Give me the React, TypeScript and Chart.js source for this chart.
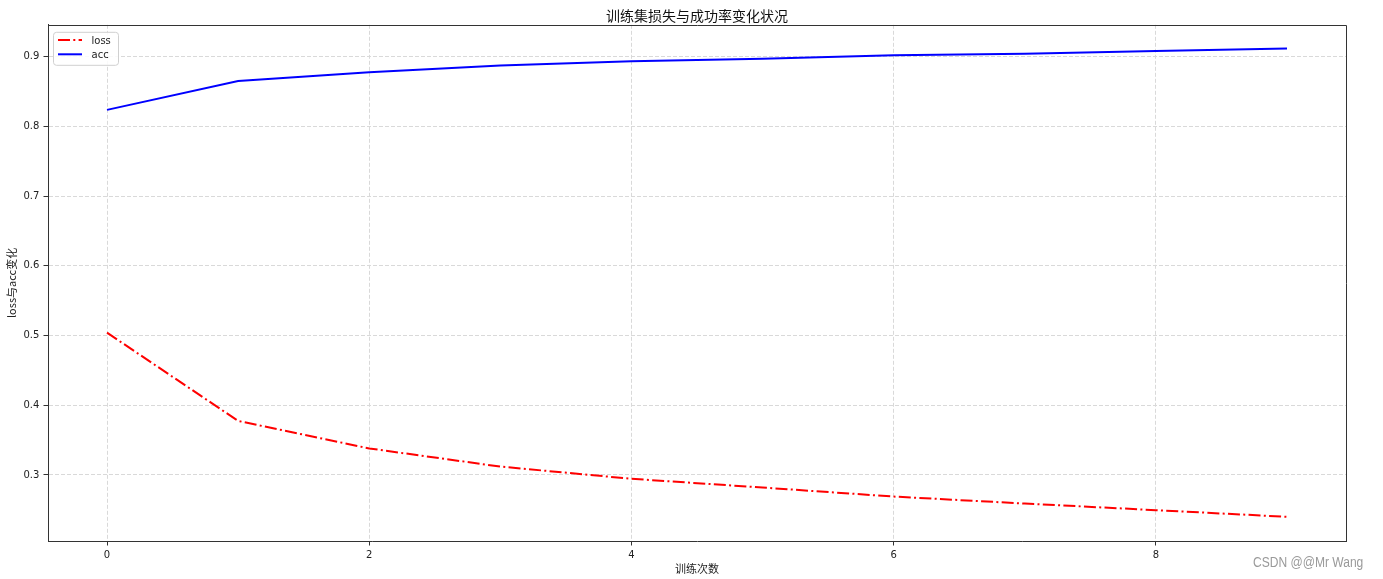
import { useEffect, useRef } from "react";
import { Chart, registerables } from "chart.js";

Chart.register(...registerables);

const epochs = [0, 1, 2, 3, 4, 5, 6, 7, 8, 9];
const lossValues = [0.504, 0.3775, 0.338, 0.312, 0.2945, 0.282, 0.269, 0.259, 0.2495, 0.24];
const accValues = [0.8235, 0.865, 0.8776, 0.887, 0.8934, 0.8967, 0.902, 0.904, 0.908, 0.9115];
const xTickValues = [0, 2, 4, 6, 8];
const yTickValues = [0.3, 0.4, 0.5, 0.6, 0.7, 0.8, 0.9];
const seriesLabels = ["loss", "acc"];
const titleText = "训练集损失与成功率变化状况";
const xTitleText = "训练次数";
const yTitleText = "loss与acc变化";
const watermarkText = "CSDN @@Mr Wang";

const FONT = "'Noto Sans CJK SC', 'DejaVu Sans', sans-serif";
const NUMFONT = "'DejaVu Sans', 'Noto Sans CJK SC', sans-serif";
const TEXT = "#222";

const framePlugin = {
  id: "frame",
  afterDatasetsDraw(chart: any) {
    const { ctx, chartArea } = chart;
    ctx.save();
    ctx.strokeStyle = "#333";
    ctx.lineWidth = 1;
    ctx.beginPath();
    ctx.moveTo(Math.round(chartArea.left) + 0.5, Math.round(chartArea.top) + 0.5);
    ctx.lineTo(Math.round(chartArea.right) + 0.5, Math.round(chartArea.top) + 0.5);
    ctx.lineTo(Math.round(chartArea.right) + 0.5, Math.round(chartArea.bottom) + 0.5);
    ctx.stroke();
    ctx.restore();
  },
};

const legendPlugin = {
  id: "mplLegend",
  afterDraw(chart: any) {
    const { ctx, chartArea } = chart;
    const x0 = chartArea.left + 5;
    const y0 = chartArea.top + 7;
    const w = 65;
    const h = 33;
    ctx.save();
    ctx.fillStyle = "rgba(255,255,255,0.85)";
    ctx.strokeStyle = "#d0d0d0";
    ctx.lineWidth = 1;
    ctx.beginPath();
    (ctx as any).roundRect(x0 + 0.5, y0 + 0.5, w, h, 3);
    ctx.fill();
    ctx.stroke();
    const rows = [chartArea.top + 15.3, chartArea.top + 29.5];
    chart.data.datasets.forEach((ds: any, i: number) => {
      const y = rows[i];
      ctx.save();
      ctx.strokeStyle = ds.borderColor;
      ctx.lineWidth = ds.borderWidth;
      ctx.setLineDash(ds.borderDash || []);
      ctx.beginPath();
      ctx.moveTo(chartArea.left + 10, y);
      ctx.lineTo(chartArea.left + 34, y);
      ctx.stroke();
      ctx.restore();
      ctx.fillStyle = TEXT;
      ctx.font = `10px ${NUMFONT}`;
      ctx.textBaseline = "middle";
      ctx.textAlign = "left";
      ctx.fillText(ds.label, chartArea.left + 43.5, y + 1.5);
    });
    ctx.restore();
  },
};

const watermarkPlugin = {
  id: "watermark",
  afterDraw(chart: any) {
    const { ctx } = chart;
    ctx.save();
    ctx.fillStyle = "#9a9a9a";
    ctx.font = `14px 'Liberation Sans', Arial, sans-serif`;
    ctx.textBaseline = "middle";
    ctx.textAlign = "left";
    ctx.translate(1253, 563);
    ctx.scale(0.86, 1);
    ctx.fillText(watermarkText, 0, 0);
    ctx.restore();
  },
};

export default function App() {
  const ref = useRef<HTMLCanvasElement | null>(null);

  useEffect(() => {
    if (!ref.current) return;
    const chart = new Chart(ref.current, {
      type: "line",
      data: {
        datasets: [
          {
            label: seriesLabels[0],
            data: epochs.map((e, i) => ({ x: e, y: lossValues[i] })),
            borderColor: "#ff0000",
            borderWidth: 2,
            borderDash: [12, 3.3, 2, 3.3],
            pointRadius: 0,
            fill: false,
            tension: 0,
            yAxisID: "y",
          },
          {
            label: seriesLabels[1],
            data: epochs.map((e, i) => ({ x: e, y: accValues[i] })),
            borderColor: "#0000ff",
            borderWidth: 2,
            pointRadius: 0,
            fill: false,
            tension: 0,
            yAxisID: "y",
          },
        ],
      },
      options: {
        responsive: false,
        animation: false,
        devicePixelRatio: 1,
        layout: { padding: { left: 11, right: 0, top: 0, bottom: 0 } },
        plugins: {
          legend: { display: false },
          tooltip: { enabled: false },
          title: {
            display: true,
            text: titleText,
            color: "#111",
            font: { size: 14, family: FONT, weight: "normal" },
            padding: { top: 7, bottom: 1 },
          },
        },
        scales: {
          x: {
            type: "linear",
            min: -0.45,
            max: 9.45,
            afterBuildTicks: (scale: any) => {
              scale.ticks = xTickValues.map((v) => ({ value: v }));
            },
            afterFit: (scale: any) => {
              scale.height = 38;
            },
            ticks: {
              color: TEXT,
              font: { size: 10, family: NUMFONT },
              padding: 3.5,
              maxRotation: 0,
              callback: (v: any) => String(v),
            },
            grid: {
              color: "#d9d9d9",
              lineWidth: 1,
              tickLength: 4.5,
              tickColor: "#333",
              tickWidth: 1,
              tickBorderDash: [],
            },
            border: { display: true, color: "#333", width: 1, dash: [4, 2] },
            title: {
              display: true,
              text: xTitleText,
              color: TEXT,
              font: { size: 11, family: FONT },
              padding: { top: 0, bottom: 3.4 },
            },
          },
          y: {
            type: "linear",
            position: "left",
            min: 0.2053,
            max: 0.9455,
            afterBuildTicks: (scale: any) => {
              scale.ticks = yTickValues.map((v) => ({ value: v }));
            },
            afterFit: (scale: any) => {
              scale.width = 37;
            },
            ticks: {
              color: TEXT,
              font: { size: 10, family: NUMFONT },
              padding: 4.2,
              callback: (v: any) => Number(v).toFixed(1),
            },
            grid: {
              color: "#d9d9d9",
              lineWidth: 1,
              tickLength: 4.5,
              tickColor: "#333",
              tickWidth: 1,
              tickBorderDash: [],
            },
            border: { display: true, color: "#333", width: 1, dash: [4, 2] },
            title: {
              display: true,
              text: yTitleText,
              color: TEXT,
              font: { size: 11, family: FONT, lineHeight: 0.2 },
              padding: { top: 0, bottom: 0 },
            },
          },
          yRight: {
            type: "linear",
            position: "right",
            display: true,
            min: 0,
            max: 1,
            afterFit: (scale: any) => {
              scale.width = 37;
            },
            ticks: { display: false },
            grid: { display: false, drawOnChartArea: false },
            border: { display: false },
            title: { display: false },
          },
        },
      },
      plugins: [framePlugin, legendPlugin, watermarkPlugin],
    } as any);
    return () => chart.destroy();
  }, []);

  return (
    <div style={{ position: "fixed", left: 0, top: 0, width: 1383, height: 579, background: "#fff" }}>
      <canvas ref={ref} width={1383} height={579} style={{ width: 1383, height: 579, display: "block" }} />
    </div>
  );
}
